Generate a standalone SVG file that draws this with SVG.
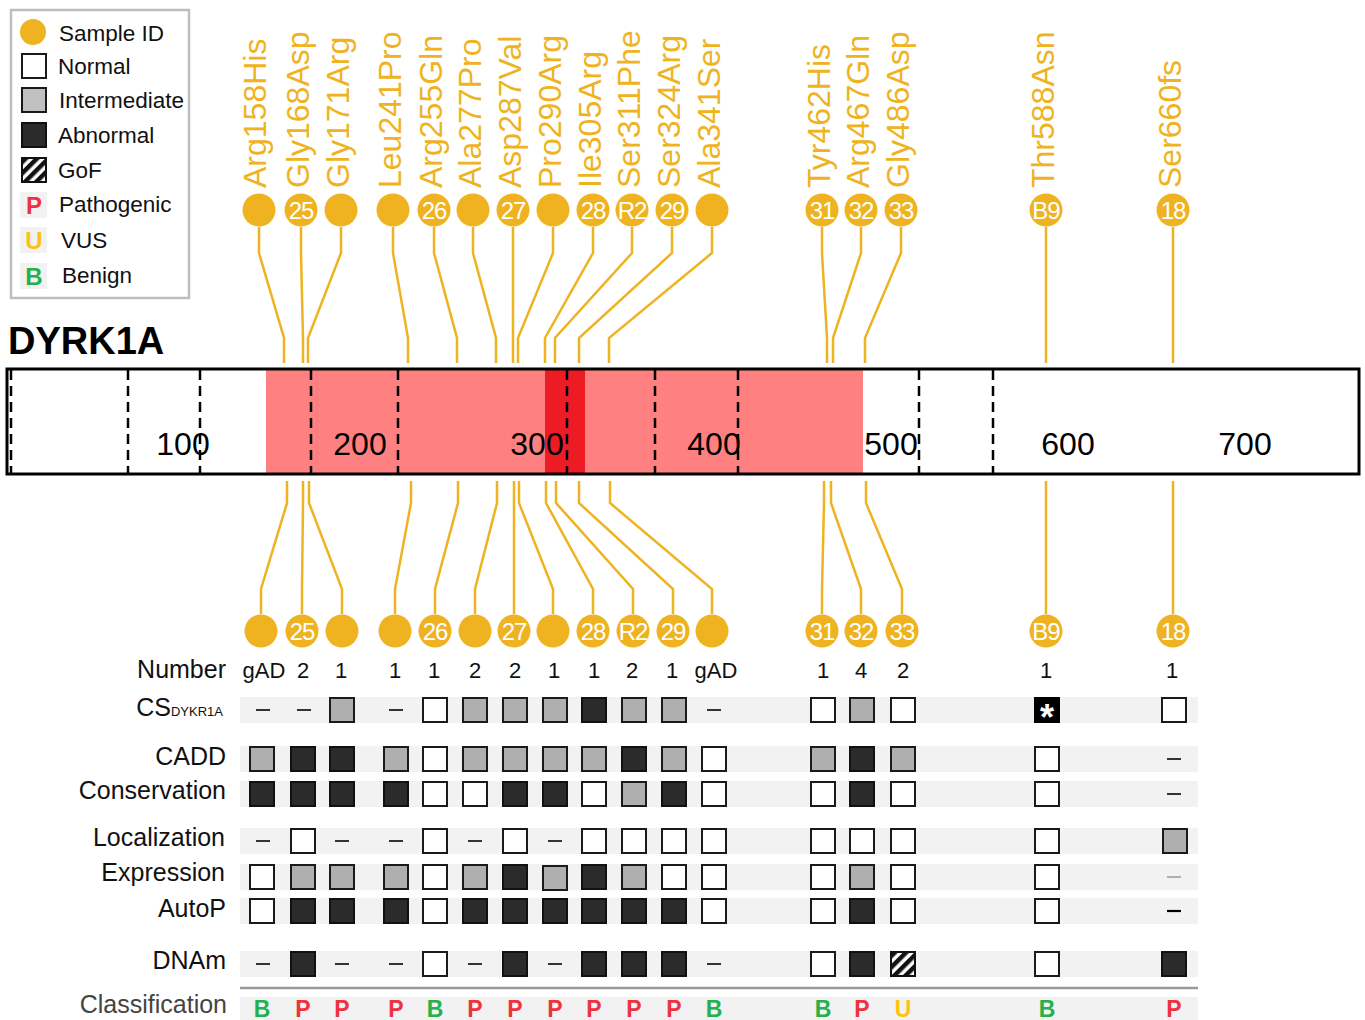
<svg xmlns="http://www.w3.org/2000/svg" width="1365" height="1020" viewBox="0 0 1365 1020">
<style>
text{font-family:"Liberation Sans",Arial,sans-serif}
.lbl{fill:#EFB321;font-size:32px}
.dot{fill:#EFB321}
.dn{fill:#fff;font-size:24px;text-anchor:middle;letter-spacing:-1px}
.con{fill:none;stroke:#EFB321;stroke-width:2.5}
.dash{stroke:#000;stroke-width:2.5;stroke-dasharray:10 6}
.tick{font-size:32px;text-anchor:middle;fill:#000}
.rl{font-size:25px;text-anchor:end;fill:#111}
.num{font-size:22px;text-anchor:middle;fill:#111}
.band{fill:#F2F2F2}
.N{fill:#fff;stroke:#1a1a1a;stroke-width:2}
.I{fill:#AFAFAF;stroke:#1a1a1a;stroke-width:2}
.A{fill:#2B2B2B;stroke:#111;stroke-width:2}
.G{fill:url(#hatch);stroke:#111;stroke-width:2}
.D{stroke:#333;stroke-width:2}
.cls{font-size:23px;font-weight:bold;text-anchor:middle}
.P{fill:#EE3340}.U{fill:#FFC20E}.B{fill:#22B14C}
.lg{font-size:22.5px;fill:#111}
</style>
<defs>
<pattern id="hatch" patternUnits="userSpaceOnUse" width="8" height="8" patternTransform="rotate(45)">
<rect width="8" height="8" fill="#fff"/><rect width="4.5" height="8" fill="#111"/>
</pattern>
</defs>
<rect width="1365" height="1020" fill="#fff"/>

<!-- Legend -->
<g id="legend">
<rect x="11" y="10" width="178" height="288" fill="#fff" stroke="#BDBDBD" stroke-width="2.5"/>
<circle cx="33" cy="32" r="13" class="dot"/>
<text x="59" y="41" class="lg">Sample ID</text>
<rect x="22" y="54" width="24" height="24" class="N"/>
<text x="58" y="74" class="lg">Normal</text>
<rect x="22" y="88" width="24" height="24" fill="#C0C0C0" stroke="#1a1a1a" stroke-width="2"/>
<text x="59" y="108" class="lg">Intermediate</text>
<rect x="22" y="123" width="24" height="24" class="A"/>
<text x="58" y="143" class="lg">Abnormal</text>
<rect x="22" y="158" width="24" height="24" class="G"/>
<text x="58" y="178" class="lg">GoF</text>
<rect x="20" y="192" width="27" height="26" class="band"/>
<text x="34" y="214" class="cls P" style="font-size:24px">P</text>
<text x="59" y="212" class="lg">Pathogenic</text>
<rect x="20" y="227" width="27" height="26" class="band"/>
<text x="34" y="249" class="cls U" style="font-size:24px">U</text>
<text x="61" y="248" class="lg">VUS</text>
<rect x="20" y="263" width="27" height="26" class="band"/>
<text x="34" y="285" class="cls B" style="font-size:24px">B</text>
<text x="62" y="283" class="lg">Benign</text>
</g>

<!-- Protein bar -->
<g id="protein">
<text x="8" y="354" font-size="38" font-weight="bold" fill="#000">DYRK1A</text>
<rect x="7" y="369" width="1352" height="105" fill="#fff"/>
<rect x="266" y="370" width="597" height="103" fill="#FF8080"/>
<rect x="545" y="370" width="40" height="103" fill="#ED1C24"/>
<line x1="11" y1="370" x2="11" y2="473" class="dash"/>
<line x1="128" y1="370" x2="128" y2="473" class="dash"/>
<line x1="200" y1="370" x2="200" y2="473" class="dash"/>
<line x1="311" y1="370" x2="311" y2="473" class="dash"/>
<line x1="398" y1="370" x2="398" y2="473" class="dash"/>
<line x1="567" y1="370" x2="567" y2="473" class="dash"/>
<line x1="655" y1="370" x2="655" y2="473" class="dash"/>
<line x1="738" y1="370" x2="738" y2="473" class="dash"/>
<line x1="919" y1="370" x2="919" y2="473" class="dash"/>
<line x1="993" y1="370" x2="993" y2="473" class="dash"/>
<text x="183" y="455" class="tick">100</text>
<text x="360" y="455" class="tick">200</text>
<text x="537" y="455" class="tick">300</text>
<text x="714" y="455" class="tick">400</text>
<text x="891" y="455" class="tick">500</text>
<text x="1068" y="455" class="tick">600</text>
<text x="1245" y="455" class="tick">700</text>
<rect x="7" y="369" width="1352" height="105" fill="none" stroke="#000" stroke-width="3"/>
</g>

<!-- Connectors -->
<g id="connectors">
<polyline class="con" points="259,227 259,253 284,338 284,363"/>
<polyline class="con" points="301,227 301,253 303,338 303,363"/>
<polyline class="con" points="341,227 341,253 308,338 308,363"/>
<polyline class="con" points="393,227 393,253 408,338 408,363"/>
<polyline class="con" points="434,227 434,253 457,338 457,363"/>
<polyline class="con" points="473,227 473,253 496,338 496,363"/>
<polyline class="con" points="513,227 513,253 513,338 513,363"/>
<polyline class="con" points="553,227 553,253 518,338 518,363"/>
<polyline class="con" points="593,227 593,253 545,338 545,363"/>
<polyline class="con" points="632,227 632,253 555,338 555,363"/>
<polyline class="con" points="672,227 672,253 579,338 579,363"/>
<polyline class="con" points="712,227 712,253 609,338 609,363"/>
<polyline class="con" points="822,227 822,253 827,338 827,363"/>
<polyline class="con" points="861,227 861,253 833,338 833,363"/>
<polyline class="con" points="901,227 901,253 865,338 865,363"/>
<polyline class="con" points="1046,227 1046,253 1046,338 1046,363"/>
<polyline class="con" points="1173,227 1173,253 1173,338 1173,363"/>

<polyline class="con" points="287,481 287,503 261,589 261,614"/>
<polyline class="con" points="303,481 303,503 302,589 302,614"/>
<polyline class="con" points="309,481 309,503 342,589 342,614"/>
<polyline class="con" points="411,481 411,503 395,589 395,614"/>
<polyline class="con" points="458,481 458,503 435,589 435,614"/>
<polyline class="con" points="497,481 497,503 475,589 475,614"/>
<polyline class="con" points="514,481 514,503 514,589 514,614"/>
<polyline class="con" points="519,481 519,503 553,589 553,614"/>
<polyline class="con" points="546,481 546,503 593,589 593,614"/>
<polyline class="con" points="556,481 556,503 633,589 633,614"/>
<polyline class="con" points="579,481 579,503 673,589 673,614"/>
<polyline class="con" points="610,481 610,503 712,589 712,614"/>
<polyline class="con" points="824,481 824,503 822,589 822,614"/>
<polyline class="con" points="831,481 831,503 861,589 861,614"/>
<polyline class="con" points="866,481 866,503 902,589 902,614"/>
<polyline class="con" points="1046,481 1046,503 1046,589 1046,614"/>
<polyline class="con" points="1173,481 1173,503 1173,589 1173,614"/>
</g>

<!-- Top variant nodes -->
<g id="v-Arg158His"><text class="lbl" transform="translate(266,188) rotate(-90)">Arg158His</text><circle cx="259" cy="210" r="16.5" class="dot"/></g>
<g id="v-Gly168Asp"><text class="lbl" transform="translate(309,188) rotate(-90)">Gly168Asp</text><circle cx="301" cy="210" r="16.5" class="dot"/><text x="301" y="219" class="dn">25</text></g>
<g id="v-Gly171Arg"><text class="lbl" transform="translate(349,188) rotate(-90)">Gly171Arg</text><circle cx="341" cy="210" r="16.5" class="dot"/></g>
<g id="v-Leu241Pro"><text class="lbl" transform="translate(401,188) rotate(-90)">Leu241Pro</text><circle cx="393" cy="210" r="16.5" class="dot"/></g>
<g id="v-Arg255Gln"><text class="lbl" transform="translate(442,188) rotate(-90)">Arg255Gln</text><circle cx="434" cy="210" r="16.5" class="dot"/><text x="434" y="219" class="dn">26</text></g>
<g id="v-Ala277Pro"><text class="lbl" transform="translate(481,188) rotate(-90)">Ala277Pro</text><circle cx="473" cy="210" r="16.5" class="dot"/></g>
<g id="v-Asp287Val"><text class="lbl" transform="translate(521,188) rotate(-90)">Asp287Val</text><circle cx="513" cy="210" r="16.5" class="dot"/><text x="513" y="219" class="dn">27</text></g>
<g id="v-Pro290Arg"><text class="lbl" transform="translate(561,188) rotate(-90)">Pro290Arg</text><circle cx="553" cy="210" r="16.5" class="dot"/></g>
<g id="v-Ile305Arg"><text class="lbl" transform="translate(601,188) rotate(-90)">Ile305Arg</text><circle cx="593" cy="210" r="16.5" class="dot"/><text x="593" y="219" class="dn">28</text></g>
<g id="v-Ser311Phe"><text class="lbl" transform="translate(640,188) rotate(-90)">Ser311Phe</text><circle cx="632" cy="210" r="16.5" class="dot"/><text x="632" y="219" class="dn">R2</text></g>
<g id="v-Ser324Arg"><text class="lbl" transform="translate(680,188) rotate(-90)">Ser324Arg</text><circle cx="672" cy="210" r="16.5" class="dot"/><text x="672" y="219" class="dn">29</text></g>
<g id="v-Ala341Ser"><text class="lbl" transform="translate(720,188) rotate(-90)">Ala341Ser</text><circle cx="712" cy="210" r="16.5" class="dot"/></g>
<g id="v-Tyr462His"><text class="lbl" transform="translate(830,188) rotate(-90)">Tyr462His</text><circle cx="822" cy="210" r="16.5" class="dot"/><text x="822" y="219" class="dn">31</text></g>
<g id="v-Arg467Gln"><text class="lbl" transform="translate(869,188) rotate(-90)">Arg467Gln</text><circle cx="861" cy="210" r="16.5" class="dot"/><text x="861" y="219" class="dn">32</text></g>
<g id="v-Gly486Asp"><text class="lbl" transform="translate(909,188) rotate(-90)">Gly486Asp</text><circle cx="901" cy="210" r="16.5" class="dot"/><text x="901" y="219" class="dn">33</text></g>
<g id="v-Thr588Asn"><text class="lbl" transform="translate(1054,188) rotate(-90)">Thr588Asn</text><circle cx="1046" cy="210" r="16.5" class="dot"/><text x="1046" y="219" class="dn">B9</text></g>
<g id="v-Ser660fs"><text class="lbl" transform="translate(1181,188) rotate(-90)">Ser660fs</text><circle cx="1173" cy="210" r="16.5" class="dot"/><text x="1173" y="219" class="dn">18</text></g>

<!-- Bottom sample nodes -->
<g id="s-1"><circle cx="261" cy="631" r="16.5" class="dot"/></g>
<g id="s-25"><circle cx="302" cy="631" r="16.5" class="dot"/><text x="302" y="640" class="dn">25</text></g>
<g id="s-3"><circle cx="342" cy="631" r="16.5" class="dot"/></g>
<g id="s-4"><circle cx="395" cy="631" r="16.5" class="dot"/></g>
<g id="s-26"><circle cx="435" cy="631" r="16.5" class="dot"/><text x="435" y="640" class="dn">26</text></g>
<g id="s-6"><circle cx="475" cy="631" r="16.5" class="dot"/></g>
<g id="s-27"><circle cx="514" cy="631" r="16.5" class="dot"/><text x="514" y="640" class="dn">27</text></g>
<g id="s-8"><circle cx="553" cy="631" r="16.5" class="dot"/></g>
<g id="s-28"><circle cx="593" cy="631" r="16.5" class="dot"/><text x="593" y="640" class="dn">28</text></g>
<g id="s-R2"><circle cx="633" cy="631" r="16.5" class="dot"/><text x="633" y="640" class="dn">R2</text></g>
<g id="s-29"><circle cx="673" cy="631" r="16.5" class="dot"/><text x="673" y="640" class="dn">29</text></g>
<g id="s-12"><circle cx="712" cy="631" r="16.5" class="dot"/></g>
<g id="s-31"><circle cx="822" cy="631" r="16.5" class="dot"/><text x="822" y="640" class="dn">31</text></g>
<g id="s-32"><circle cx="861" cy="631" r="16.5" class="dot"/><text x="861" y="640" class="dn">32</text></g>
<g id="s-33"><circle cx="902" cy="631" r="16.5" class="dot"/><text x="902" y="640" class="dn">33</text></g>
<g id="s-B9"><circle cx="1046" cy="631" r="16.5" class="dot"/><text x="1046" y="640" class="dn">B9</text></g>
<g id="s-18"><circle cx="1173" cy="631" r="16.5" class="dot"/><text x="1173" y="640" class="dn">18</text></g>

<!-- Table -->
<g id="table">
<rect x="240" y="697" width="958" height="26" class="band"/>
<rect x="240" y="746" width="958" height="26" class="band"/>
<rect x="240" y="781" width="958" height="26" class="band"/>
<rect x="240" y="828" width="958" height="26" class="band"/>
<rect x="240" y="864" width="958" height="26" class="band"/>
<rect x="240" y="898" width="958" height="26" class="band"/>
<rect x="240" y="951" width="958" height="26" class="band"/>
<rect x="240" y="997" width="958" height="23" class="band"/>
<line x1="240" y1="988" x2="1198" y2="988" stroke="#999" stroke-width="2.5"/>

<text x="226" y="678" class="rl">Number</text>
<text x="223" y="716" class="rl"><tspan font-size="25">CS</tspan><tspan font-size="13">DYKR1A</tspan></text>
<text x="226" y="765" class="rl">CADD</text>
<text x="226" y="799" class="rl">Conservation</text>
<text x="225" y="846" class="rl">Localization</text>
<text x="225" y="881" class="rl">Expression</text>
<text x="226" y="917" class="rl">AutoP</text>
<text x="226" y="969" class="rl">DNAm</text>
<text x="227" y="1013" class="rl" style="fill:#444">Classification</text>

<!-- Number row -->
<text x="264" y="678" class="num" font-size="18">gAD</text>
<text x="303" y="678" class="num">2</text>
<text x="341" y="678" class="num">1</text>
<text x="395" y="678" class="num">1</text>
<text x="434" y="678" class="num">1</text>
<text x="475" y="678" class="num">2</text>
<text x="515" y="678" class="num">2</text>
<text x="554" y="678" class="num">1</text>
<text x="594" y="678" class="num">1</text>
<text x="632" y="678" class="num">2</text>
<text x="672" y="678" class="num">1</text>
<text x="716" y="678" class="num" font-size="18">gAD</text>
<text x="823" y="678" class="num">1</text>
<text x="861" y="678" class="num">4</text>
<text x="903" y="678" class="num">2</text>
<text x="1046" y="678" class="num">1</text>
<text x="1172" y="678" class="num">1</text>

<!-- CS row y=710 -->
<line x1="256" y1="710" x2="270" y2="710" class="D"/>
<line x1="297" y1="710" x2="311" y2="710" class="D"/>
<rect x="330" y="698" width="24" height="24" class="I"/>
<line x1="389" y1="710" x2="403" y2="710" class="D"/>
<rect x="423" y="698" width="24" height="24" class="N"/>
<rect x="463" y="698" width="24" height="24" class="I"/>
<rect x="503" y="698" width="24" height="24" class="I"/>
<rect x="543" y="698" width="24" height="24" class="I"/>
<rect x="582" y="698" width="24" height="24" class="A"/>
<rect x="622" y="698" width="24" height="24" class="I"/>
<rect x="662" y="698" width="24" height="24" class="I"/>
<line x1="707" y1="710" x2="721" y2="710" class="D"/>
<rect x="811" y="698" width="24" height="24" class="N"/>
<rect x="850" y="698" width="24" height="24" class="I"/>
<rect x="891" y="698" width="24" height="24" class="N"/>
<rect x="1034" y="697" width="26" height="26" fill="#000"/>
<text x="1047" y="730" fill="#fff" font-size="36" font-weight="bold" text-anchor="middle">*</text>
<rect x="1162" y="698" width="24" height="24" class="N"/>

<!-- CADD row y=759 -->
<rect x="250" y="747" width="24" height="24" class="I"/>
<rect x="291" y="747" width="24" height="24" class="A"/>
<rect x="330" y="747" width="24" height="24" class="A"/>
<rect x="384" y="747" width="24" height="24" class="I"/>
<rect x="423" y="747" width="24" height="24" class="N"/>
<rect x="463" y="747" width="24" height="24" class="I"/>
<rect x="503" y="747" width="24" height="24" class="I"/>
<rect x="543" y="747" width="24" height="24" class="I"/>
<rect x="582" y="747" width="24" height="24" class="I"/>
<rect x="622" y="747" width="24" height="24" class="A"/>
<rect x="662" y="747" width="24" height="24" class="I"/>
<rect x="702" y="747" width="24" height="24" class="N"/>
<rect x="811" y="747" width="24" height="24" class="I"/>
<rect x="850" y="747" width="24" height="24" class="A"/>
<rect x="891" y="747" width="24" height="24" class="I"/>
<rect x="1035" y="747" width="24" height="24" class="N"/>
<line x1="1167" y1="759" x2="1181" y2="759" class="D"/>

<!-- Conservation row y=794 -->
<rect x="250" y="782" width="24" height="24" class="A"/>
<rect x="291" y="782" width="24" height="24" class="A"/>
<rect x="330" y="782" width="24" height="24" class="A"/>
<rect x="384" y="782" width="24" height="24" class="A"/>
<rect x="423" y="782" width="24" height="24" class="N"/>
<rect x="463" y="782" width="24" height="24" class="N"/>
<rect x="503" y="782" width="24" height="24" class="A"/>
<rect x="543" y="782" width="24" height="24" class="A"/>
<rect x="582" y="782" width="24" height="24" class="N"/>
<rect x="622" y="782" width="24" height="24" class="I"/>
<rect x="662" y="782" width="24" height="24" class="A"/>
<rect x="702" y="782" width="24" height="24" class="N"/>
<rect x="811" y="782" width="24" height="24" class="N"/>
<rect x="850" y="782" width="24" height="24" class="A"/>
<rect x="891" y="782" width="24" height="24" class="N"/>
<rect x="1035" y="782" width="24" height="24" class="N"/>
<line x1="1167" y1="794" x2="1181" y2="794" class="D"/>

<!-- Localization row y=841 -->
<line x1="256" y1="841" x2="270" y2="841" class="D"/>
<rect x="291" y="829" width="24" height="24" class="N"/>
<line x1="335" y1="841" x2="349" y2="841" class="D"/>
<line x1="389" y1="841" x2="403" y2="841" class="D"/>
<rect x="423" y="829" width="24" height="24" class="N"/>
<line x1="468" y1="841" x2="482" y2="841" class="D"/>
<rect x="503" y="829" width="24" height="24" class="N"/>
<line x1="548" y1="841" x2="562" y2="841" class="D"/>
<rect x="582" y="829" width="24" height="24" class="N"/>
<rect x="622" y="829" width="24" height="24" class="N"/>
<rect x="662" y="829" width="24" height="24" class="N"/>
<rect x="702" y="829" width="24" height="24" class="N"/>
<rect x="811" y="829" width="24" height="24" class="N"/>
<rect x="850" y="829" width="24" height="24" class="N"/>
<rect x="891" y="829" width="24" height="24" class="N"/>
<rect x="1035" y="829" width="24" height="24" class="N"/>
<rect x="1163" y="829" width="24" height="24" class="I"/>

<!-- Expression row y=877 -->
<rect x="250" y="865" width="24" height="24" class="N"/>
<rect x="291" y="865" width="24" height="24" class="I"/>
<rect x="330" y="865" width="24" height="24" class="I"/>
<rect x="384" y="865" width="24" height="24" class="I"/>
<rect x="423" y="865" width="24" height="24" class="N"/>
<rect x="463" y="865" width="24" height="24" class="I"/>
<rect x="503" y="865" width="24" height="24" class="A"/>
<rect x="543" y="866" width="24" height="24" class="I"/>
<rect x="582" y="865" width="24" height="24" class="A"/>
<rect x="622" y="865" width="24" height="24" class="I"/>
<rect x="662" y="865" width="24" height="24" class="N"/>
<rect x="702" y="865" width="24" height="24" class="N"/>
<rect x="811" y="865" width="24" height="24" class="N"/>
<rect x="850" y="865" width="24" height="24" class="I"/>
<rect x="891" y="865" width="24" height="24" class="N"/>
<rect x="1035" y="865" width="24" height="24" class="N"/>
<line x1="1167" y1="877" x2="1181" y2="877" stroke="#999" stroke-width="1.5"/>

<!-- AutoP row y=911 -->
<rect x="250" y="899" width="24" height="24" class="N"/>
<rect x="291" y="899" width="24" height="24" class="A"/>
<rect x="330" y="899" width="24" height="24" class="A"/>
<rect x="384" y="899" width="24" height="24" class="A"/>
<rect x="423" y="899" width="24" height="24" class="N"/>
<rect x="463" y="899" width="24" height="24" class="A"/>
<rect x="503" y="899" width="24" height="24" class="A"/>
<rect x="543" y="899" width="24" height="24" class="A"/>
<rect x="582" y="899" width="24" height="24" class="A"/>
<rect x="622" y="899" width="24" height="24" class="A"/>
<rect x="662" y="899" width="24" height="24" class="A"/>
<rect x="702" y="899" width="24" height="24" class="N"/>
<rect x="811" y="899" width="24" height="24" class="N"/>
<rect x="850" y="899" width="24" height="24" class="A"/>
<rect x="891" y="899" width="24" height="24" class="N"/>
<rect x="1035" y="899" width="24" height="24" class="N"/>
<line x1="1167" y1="911" x2="1181" y2="911" stroke="#000" stroke-width="2.2"/>

<!-- DNAm row y=964 -->
<line x1="256" y1="964" x2="270" y2="964" class="D"/>
<rect x="291" y="952" width="24" height="24" class="A"/>
<line x1="335" y1="964" x2="349" y2="964" class="D"/>
<line x1="389" y1="964" x2="403" y2="964" class="D"/>
<rect x="423" y="952" width="24" height="24" class="N"/>
<line x1="468" y1="964" x2="482" y2="964" class="D"/>
<rect x="503" y="952" width="24" height="24" class="A"/>
<line x1="548" y1="964" x2="562" y2="964" class="D"/>
<rect x="582" y="952" width="24" height="24" class="A"/>
<rect x="622" y="952" width="24" height="24" class="A"/>
<rect x="662" y="952" width="24" height="24" class="A"/>
<line x1="707" y1="964" x2="721" y2="964" class="D"/>
<rect x="811" y="952" width="24" height="24" class="N"/>
<rect x="850" y="952" width="24" height="24" class="A"/>
<rect x="891" y="952" width="24" height="24" class="G"/>
<rect x="1035" y="952" width="24" height="24" class="N"/>
<rect x="1162" y="952" width="24" height="24" class="A"/>

<!-- Classification row -->
<text x="262" y="1017" class="cls B">B</text>
<text x="303" y="1017" class="cls P">P</text>
<text x="342" y="1017" class="cls P">P</text>
<text x="396" y="1017" class="cls P">P</text>
<text x="435" y="1017" class="cls B">B</text>
<text x="475" y="1017" class="cls P">P</text>
<text x="515" y="1017" class="cls P">P</text>
<text x="555" y="1017" class="cls P">P</text>
<text x="594" y="1017" class="cls P">P</text>
<text x="634" y="1017" class="cls P">P</text>
<text x="674" y="1017" class="cls P">P</text>
<text x="714" y="1017" class="cls B">B</text>
<text x="823" y="1017" class="cls B">B</text>
<text x="862" y="1017" class="cls P">P</text>
<text x="903" y="1017" class="cls U">U</text>
<text x="1047" y="1017" class="cls B">B</text>
<text x="1174" y="1017" class="cls P">P</text>
</g>
</svg>
